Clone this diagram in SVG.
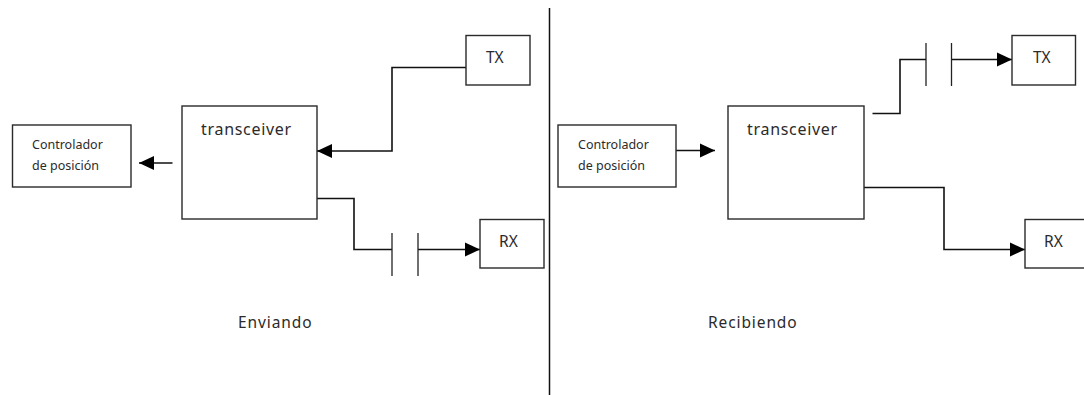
<svg xmlns="http://www.w3.org/2000/svg" width="1084" height="395" viewBox="0 0 1084 395">
<style>
.box{fill:#fff;stroke:#2a2a2a;stroke-width:1.4}
.w{fill:none;stroke:#111;stroke-width:1.6}
.a{fill:none;stroke:#111;stroke-width:1.6;marker-end:url(#arr)}
.p{stroke:#222;stroke-width:1.3}
text{font-family:"Noto Sans","Open Sans","DejaVu Sans",sans-serif;fill:#2b2b2b}
.big{font-size:16px;letter-spacing:.7px}
.sm{font-size:12.500px}
.mid{font-size:15.500px}
.cap{font-size:15.500px;letter-spacing:.9px}
</style>
<defs>
<marker id="arr" markerUnits="userSpaceOnUse" markerWidth="16" markerHeight="16" refX="15" refY="8" orient="auto"><path d="M0 1L15 8L0 15z" fill="#000"/></marker>
</defs>
<rect width="1084" height="395" fill="#fff"/>
<g id="connectors">
<path class="a" d="M466 67.500H392V151H317"/>
<path class="a" d="M172.500 163H139"/>
<path class="w" d="M317 198.500H354V249.500H392"/>
<path class="a" d="M418 249.500H480"/>
<path class="a" d="M676 150.500H715"/>
<path class="w" d="M872.500 113.500H900V59.500H926"/>
<path class="a" d="M951.500 59.500H1012"/>
<path class="a" d="M864 187.500H944V249.500H1025"/>
</g>
<g id="divider"><line x1="549.500" y1="8" x2="549.500" y2="395" stroke="#111" stroke-width="1.500"/></g>
<g id="capacitor-left"><line class="p" x1="392" y1="233" x2="392" y2="276"/><line class="p" x1="418" y1="233" x2="418" y2="276"/></g>
<g id="capacitor-right"><line class="p" x1="926" y1="43" x2="926" y2="86"/><line class="p" x1="951.500" y1="43" x2="951.500" y2="86"/></g>
<g id="controller-left"><rect class="box" x="12.500" y="125" width="118.500" height="62"/><text class="sm" x="32" y="149">Controlador</text><text class="sm" x="32" y="170">de posición</text></g>
<g id="transceiver-left"><rect class="box" x="182" y="106" width="135" height="113"/><text class="big" x="201" y="135">transceiver</text></g>
<g id="tx-left"><rect class="box" x="466" y="35.500" width="64" height="49.500"/><text class="mid" x="486" y="62.500">TX</text></g>
<g id="rx-left"><rect class="box" x="480" y="219.500" width="64" height="48.500"/><text class="mid" x="499" y="246.500">RX</text></g>
<g id="label-left"><text class="cap" x="238" y="328">Enviando</text></g>
<g id="controller-right"><rect class="box" x="558" y="125" width="118" height="62"/><text class="sm" x="578" y="149">Controlador</text><text class="sm" x="578" y="170">de posición</text></g>
<g id="transceiver-right"><rect class="box" x="728" y="106" width="136" height="113"/><text class="big" x="747" y="135">transceiver</text></g>
<g id="tx-right"><rect class="box" x="1012" y="35.500" width="63.500" height="49.500"/><text class="mid" x="1033" y="62.500">TX</text></g>
<g id="rx-right"><rect class="box" x="1025" y="219.500" width="64" height="48.500"/><text class="mid" x="1044" y="246.500">RX</text></g>
<g id="label-right"><text class="cap" x="708" y="328">Recibiendo</text></g>
</svg>
